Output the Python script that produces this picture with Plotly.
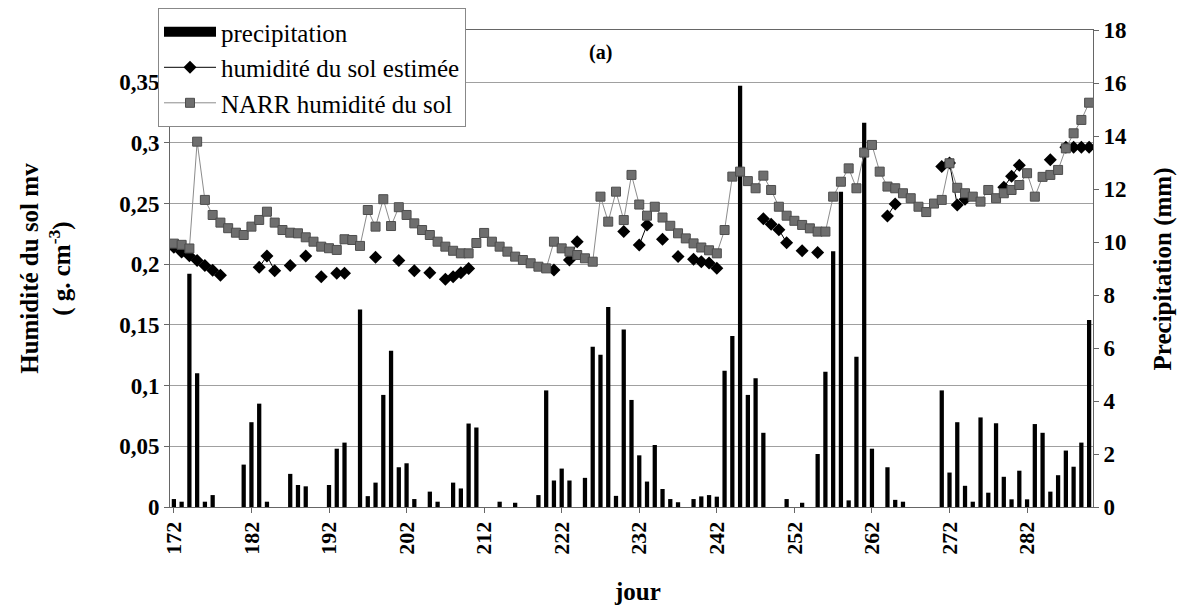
import plotly.graph_objects as go

days = list(range(172, 291))

precip = [0.3, 0.2, 8.8, 5.05, 0.2, 0.45, 0, 0, 0, 1.6, 3.2, 3.9, 0.2, 0, 0, 1.25, 0.83, 0.78, 0, 0,
          0.83, 2.2, 2.43, 0, 7.45, 0.41, 0.92, 4.23, 5.9, 1.5, 1.65, 0.3, 0, 0.58, 0.2, 0, 0.92, 0.7, 3.15, 3.0,
          0, 0, 0.2, 0, 0.16, 0, 0, 0.45, 4.4, 1.0, 1.45, 1.0, 0, 1.1, 6.05, 5.75, 7.55, 0.42, 6.7, 4.04,
          1.95, 0.96, 2.34, 0.68, 0.3, 0.18, 0, 0.3, 0.4, 0.45, 0.39, 5.14, 6.45, 15.9, 4.23, 4.86, 2.8, 0, 0, 0.3,
          0, 0.16, 0, 2.0, 5.1, 9.65, 11.9, 0.25, 5.67, 14.5, 2.2, 0, 1.5, 0.27, 0.2, 0, 0, 0, 0, 4.4,
          1.3, 3.2, 0.8, 0.2, 3.38, 0.54, 3.16, 1.14, 0.29, 1.37, 0.29, 3.13, 2.8, 0.58, 1.2, 2.13, 1.52, 2.43, 7.06]

narr = [0.217, 0.216, 0.213, 0.301, 0.253, 0.2406, 0.2343, 0.2297, 0.226, 0.2241,
        0.231, 0.2365, 0.2433, 0.2343, 0.2282, 0.226, 0.2255, 0.2222, 0.2186, 0.2145,
        0.2132, 0.2118, 0.2206, 0.22, 0.2151, 0.2447, 0.231, 0.2536, 0.2315, 0.247,
        0.2406, 0.2337, 0.2282, 0.2241, 0.2186, 0.2145, 0.2111, 0.209, 0.209, 0.2175,
        0.2258, 0.2186, 0.2145, 0.2104, 0.2063, 0.2035, 0.2008, 0.198, 0.1966, 0.2186,
        0.2131, 0.2104, 0.2076, 0.2049, 0.2021, 0.2557, 0.2351, 0.2598, 0.2364, 0.2736,
        0.2492, 0.24, 0.2474, 0.2385, 0.2317, 0.2255, 0.2213, 0.2172, 0.2138, 0.2115,
        0.209, 0.2282, 0.2722, 0.2763, 0.2685, 0.2626, 0.273, 0.2612, 0.2474, 0.24,
        0.2358, 0.2324, 0.2296, 0.2269, 0.2269, 0.2557, 0.268, 0.279, 0.2626, 0.292,
        0.2983, 0.2763, 0.264, 0.2626, 0.2585, 0.2544, 0.2474, 0.243, 0.25, 0.253,
        0.2832, 0.263, 0.2585, 0.2557, 0.2516, 0.2612, 0.2544, 0.2585, 0.2612, 0.2653,
        0.275, 0.2557, 0.272, 0.2736, 0.2777, 0.2955, 0.3079, 0.3189, 0.3331]

estim_days = [172, 173, 174, 175, 176, 177, 178, 183, 184, 185, 187, 189, 191, 193, 194, 198,
              201, 203, 205, 207, 208, 209, 210, 221, 223, 224, 230, 232, 233, 235, 237, 239,
              240, 241, 242, 248, 249, 250, 251, 253, 255, 264, 265, 271, 272, 273, 274, 279,
              280, 281, 285, 287, 288, 289, 290]
estim_vals = [0.214, 0.210, 0.207, 0.203, 0.199, 0.195, 0.191, 0.1975, 0.2068, 0.1947, 0.199, 0.2068,
              0.1898, 0.1926, 0.1926, 0.2057, 0.203, 0.1947, 0.193, 0.1876, 0.1898, 0.193, 0.1965,
              0.1953, 0.2035, 0.2186, 0.2269, 0.2159, 0.2324, 0.2206, 0.2063, 0.2041, 0.2021, 0.201,
              0.1967, 0.2375, 0.233, 0.2285, 0.2178, 0.2112, 0.2096, 0.2398, 0.2497, 0.2805, 0.2835,
              0.2488, 0.2535, 0.2635, 0.2725, 0.2815, 0.286, 0.2965, 0.2965, 0.2965, 0.2965]

estim_map = dict(zip(estim_days, estim_vals))
estim = [estim_map.get(d) for d in days]

x_ticks = list(range(172, 290, 10))
left_ticks = [0, 0.05, 0.1, 0.15, 0.2, 0.25, 0.3, 0.35]
right_ticks = list(range(0, 19, 2))

SERIF = "Liberation Serif, Times New Roman, Tinos, DejaVu Serif, serif"

fig = go.Figure()
# legend-only entry giving the wide black swatch of the reference legend
fig.add_trace(go.Scatter(x=[None], y=[None], name="precipitation", mode="lines",
                         line=dict(color="black", width=13), yaxis="y", hoverinfo="skip"))
fig.add_trace(go.Bar(x=days, y=precip, name="precipitation", showlegend=False,
                     marker=dict(color="black", line=dict(width=0)), yaxis="y"))
fig.add_trace(go.Scatter(x=days, y=estim, name="humidité du sol estimée", mode="lines+markers",
                         line=dict(color="black", width=1), connectgaps=False,
                         marker=dict(symbol="diamond", size=10, color="black"), yaxis="y2"))
fig.add_trace(go.Scatter(x=days, y=narr, name="NARR humidité du sol", mode="lines+markers",
                         line=dict(color="#8c8c8c", width=1),
                         marker=dict(symbol="square", size=9, color="#6e6e6e",
                                     line=dict(color="#4d4d4d", width=1)), yaxis="y2"))

tickfont = dict(family=SERIF, size=23, color="black", weight="bold")
xtickfont = dict(family=SERIF, size=22, color="black", weight="bold")

fig.update_layout(
    width=1185, height=615,
    margin=dict(l=170, r=92, t=30, b=108, autoexpand=False),
    paper_bgcolor="white", plot_bgcolor="white",
    separators=", ",
    bargap=0.45,
    showlegend=True,
    legend=dict(x=-0.013, y=1.046, xanchor="left", yanchor="top",
                bgcolor="white", bordercolor="#888888", borderwidth=1,
                font=dict(family=SERIF, size=25, color="black"),
                itemwidth=52, tracegroupgap=0),
    xaxis=dict(range=[171.5, 290.5], tickmode="array", tickvals=x_ticks,
               ticktext=[str(t) for t in x_ticks], tickangle=-90,
               tickfont=xtickfont, ticks="outside", ticklen=5, tickcolor="#666666",
               showline=True, linecolor="#666666", linewidth=1, mirror=True,
               showgrid=False, zeroline=False, automargin=False),
    yaxis=dict(range=[0, 18], tickmode="array", tickvals=right_ticks, side="right",
               tickfont=tickfont, ticks="outside", ticklen=5, tickcolor="#666666",
               showline=True, linecolor="#666666", linewidth=1,
               showgrid=False, zeroline=False, automargin=False),
    yaxis2=dict(range=[0, 0.393], tickmode="array", tickvals=left_ticks, side="left",
                overlaying="y", tickfont=tickfont, ticks="outside", ticklen=5, tickcolor="#666666",
                showline=True, linecolor="#666666", linewidth=1,
                showgrid=True, gridcolor="#a0a0a0", gridwidth=1, zeroline=False, automargin=False),
    annotations=[
        dict(text="(a)", x=0.466, y=0.953, xref="paper", yref="paper", showarrow=False,
             xanchor="center", yanchor="middle",
             font=dict(family=SERIF, size=20, color="black", weight="bold")),
        dict(text="Humidité du sol mv<br>( g. cm<sup>-3</sup>)", x=-0.134, y=0.5, xref="paper", yref="paper",
             xanchor="center", yanchor="middle", showarrow=False, textangle=-90,
             font=dict(family=SERIF, size=25, color="black", weight="bold")),
        dict(text="Precipitation (mm)", x=1.0758, y=0.5, xref="paper", yref="paper",
             xanchor="center", yanchor="middle", showarrow=False, textangle=-90,
             font=dict(family=SERIF, size=25, color="black", weight="bold")),
        dict(text="jour", x=0.506, y=-0.178, xref="paper", yref="paper", showarrow=False,
             xanchor="center", yanchor="middle",
             font=dict(family=SERIF, size=25, color="black", weight="bold")),
    ],
)

fig.write_html("out.html", config={"displayModeBar": False},
               post_script="document.body.style.margin='0px';")
